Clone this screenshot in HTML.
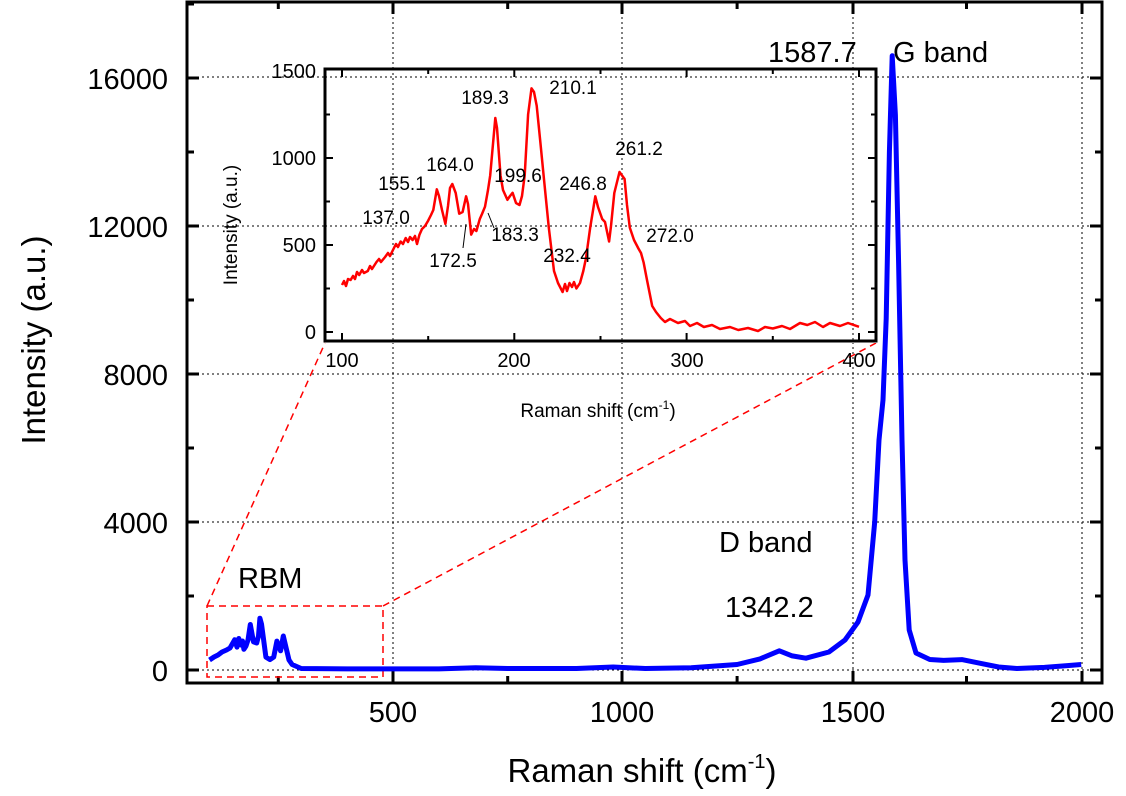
<!DOCTYPE html><html><head><style>body{margin:0;background:#fff}svg{display:block}text{font-family:"Liberation Sans",Arial,sans-serif}</style></head><body>
<svg width="1126" height="796" xmlns="http://www.w3.org/2000/svg">
<rect width="1126" height="796" fill="#fff"/>
<g stroke="#000" stroke-width="1" stroke-dasharray="2,3">
<line x1="393" y1="2" x2="393" y2="683"/><line x1="622" y1="2" x2="622" y2="683"/><line x1="853" y1="2" x2="853" y2="683"/><line x1="1082" y1="2" x2="1082" y2="683"/>
<line x1="187" y1="670" x2="1102" y2="670"/><line x1="187" y1="522" x2="1102" y2="522"/><line x1="187" y1="374" x2="1102" y2="374"/><line x1="187" y1="226" x2="1102" y2="226"/><line x1="187" y1="77" x2="1102" y2="77"/>
</g>
<rect x="187" y="2" width="915" height="681" fill="none" stroke="#000" stroke-width="3"/>
<g stroke="#000" stroke-width="3">
<path d="M278.3,683v-7M393,683v-12M507.7,683v-7M622,683v-12M737.1,683v-7M853,683v-12M966.5,683v-7M1082,683v-12M278.3,2v7M393,2v12M507.7,2v7M622,2v12M737.1,2v7M853,2v12M966.5,2v7M1082,2v12"/>
<path d="M187,670h12M187,596h7M187,522h12M187,448h7M187,374h12M187,300h7M187,226h12M187,152h7M187,78h12M187,4h7M1102,670h-12M1102,596h-7M1102,522h-12M1102,448h-7M1102,374h-12M1102,300h-7M1102,226h-12M1102,152h-7M1102,78h-12"/>
</g>
<g font-size="29" text-anchor="middle">
<text x="393" y="722">500</text><text x="622" y="722">1000</text><text x="853" y="722">1500</text><text x="1082" y="722">2000</text>
</g>
<g font-size="29" text-anchor="end">
<text x="168" y="681">0</text><text x="168" y="533">4000</text><text x="168" y="385">8000</text><text x="168" y="237">12000</text><text x="168" y="89">16000</text>
</g>
<text x="642" y="782" font-size="33" text-anchor="middle">Raman shift (cm<tspan font-size="20" dy="-14">-1</tspan><tspan dy="14">)</tspan></text>
<text transform="translate(45,340) rotate(-90)" font-size="33" text-anchor="middle">Intensity (a.u.)</text>
<g stroke="#f00" stroke-width="1.5" stroke-dasharray="7,5" fill="none">
<rect x="207" y="606" width="176" height="71"/>
<line x1="207" y1="606" x2="325" y2="343"/><line x1="383" y1="606" x2="876" y2="343"/>
</g>
<path fill="none" stroke="#00f" stroke-width="5" stroke-linejoin="round" d="M209.5,660 L214,657 L218,655 L222,652 L226.5,650 L230,648 L234.7,639.7 L237,647.1 L238.8,638.5 L241,645 L242.5,641 L243.9,649.3 L246,646 L248,640 L250.3,624.5 L253.5,641.9 L256.7,643 L258.5,636 L259.9,618.2 L261.5,624 L263.2,636.7 L265.9,657.1 L270,659.6 L273.7,657.1 L276.9,641.1 L280.6,650.8 L283.3,636 L286.1,647.8 L289,660 L292.1,664.5 L301.2,668.5 L347.1,668.9 L438.9,668.9 L475.6,667.8 L507.7,668.5 L576.5,668.5 L613.2,667 L645.3,668.5 L691.2,667.8 L737.1,664.5 L760,658.9 L779.3,650.8 L792.2,655.9 L805.9,658.2 L828.9,652 L845,640 L858,622 L868,595 L874.7,522 L879,440 L883,400 L886.2,318.5 L889.4,152 L892.2,55.8 L895.4,115 L898.6,263 L902,440 L905,560 L909.2,630 L916,653 L929.8,659.5 L943.6,660.4 L961.9,659.6 L980.3,663.3 L998.6,667 L1016.9,668.5 L1044.5,667.4 L1067.4,665.6 L1081.2,664.5"/>
<rect x="325" y="68" width="551" height="275" fill="#fff"/>
<g stroke="#000" stroke-width="1" stroke-dasharray="2,3">
<line x1="393" y1="68" x2="393" y2="343"/><line x1="622" y1="68" x2="622" y2="343"/><line x1="853" y1="68" x2="853" y2="343"/>
<line x1="325" y1="226" x2="876" y2="226"/><line x1="325" y1="77" x2="876" y2="77"/>
</g>
<rect x="325" y="69" width="551" height="272" fill="none" stroke="#000" stroke-width="3"/>
<g stroke="#000" stroke-width="2">
<path d="M342,341v-8M428.2,341v-5M514.3,341v-8M600.5,341v-5M686.6,341v-8M772.8,341v-5M859,341v-8M342,69v8M428.2,69v5M514.3,69v8M600.5,69v5M686.6,69v8M772.8,69v5M859,69v8"/>
<path d="M325,332h8M325,288.5h5M325,245h8M325,201.5h5M325,158h8M325,114.5h5M876,332h-8M876,288.5h-5M876,245h-8M876,201.5h-5M876,158h-8M876,114.5h-5"/>
</g>
<path fill="none" stroke="#f00" stroke-width="2.5" stroke-linejoin="round" d="M342,285 L344,281 L346,286 L348,279 L350.6,280 L353,276 L355,279 L357,272 L359.2,275 L362,270 L364,273 L367.8,271 L370,266 L372,269 L376.5,262 L379,259 L381,262 L385.1,257 L388,253 L390,256 L393.7,248.5 L396,244 L398,247 L400.6,241.5 L403,244 L405.7,238 L408,242 L410,237 L412.6,240 L415,236 L417,244 L419.5,234.6 L422,229 L425,226 L428.2,220.6 L431,215 L433.3,210 L436.8,189.3 L439,196 L442,210 L445.4,224 L448,206 L450,188 L452.3,184 L455.7,193 L459.2,213.7 L462.6,212 L466.1,196.3 L468,204 L471.2,234.6 L474,229 L476.4,231 L479.8,219 L482,214 L485,206.7 L488,190 L490.2,175.4 L495.3,118 L497,128 L500.5,175.4 L503,190 L507.4,199.8 L510,196 L512.6,192.8 L516,203 L519.5,205 L522,196 L524.7,175.4 L528.1,114.5 L531.5,88.4 L534,92 L536.7,105.8 L540.2,140.6 L543.6,175.4 L548.8,227.6 L554,271 L558,283 L562.6,292 L565,284 L567,291 L569.5,283 L572,287 L574,282 L576.4,288.5 L580,283 L583.3,271 L586,258 L590.2,227.6 L595.3,196.3 L598,207 L602.2,219 L605,222 L609.1,241.5 L611,226 L614.3,193 L619.5,172 L624.6,179 L627,205 L629.8,227.6 L634,240 L638.4,248.5 L641,253 L643.6,262.4 L647,280 L652.2,306 L656,312 L660.8,318 L665,322 L670,319 L678,323 L685,321 L690,326 L697,323 L703.9,327 L712,325 L720,329 L730,327 L738.3,330 L748,328 L758,331 L765,327 L772.8,328.5 L782,326 L790,329 L800,323 L807.3,325 L815,322 L823,327 L830,323 L840,326 L848,323 L859,326.8"/>
<g font-size="20" text-anchor="middle">
<text x="342" y="367">100</text><text x="514" y="367">200</text><text x="687" y="367">300</text><text x="859" y="367">400</text>
</g>
<g font-size="20" text-anchor="end">
<text x="316" y="339">0</text><text x="316" y="252">500</text><text x="316" y="165">1000</text><text x="316" y="78">1500</text>
</g>
<text x="598" y="417" font-size="19" text-anchor="middle">Raman shift (cm<tspan font-size="12" dy="-8">-1</tspan><tspan dy="8">)</tspan></text>
<text transform="translate(237,225) rotate(-90)" font-size="19" text-anchor="middle">Intensity (a.u.)</text>
<g font-size="19" text-anchor="middle">
<text x="485" y="104">189.3</text><text x="573" y="94">210.1</text><text x="450" y="171">164.0</text><text x="402" y="190">155.1</text><text x="518" y="182">199.6</text><text x="386" y="224">137.0</text><text x="515" y="241">183.3</text><text x="453" y="267">172.5</text><text x="567" y="262">232.4</text><text x="583" y="190">246.8</text><text x="639" y="155">261.2</text><text x="670" y="242">272.0</text>
</g>
<g stroke="#000" stroke-width="1"><line x1="463" y1="248" x2="466" y2="224"/><line x1="494" y1="228" x2="488" y2="213"/></g>
<g font-size="29">
<text x="768" y="62">1587.7</text><text x="893" y="62">G band</text><text x="719" y="552">D band</text><text x="725" y="617">1342.2</text><text x="238" y="588">RBM</text>
</g>
</svg></body></html>
